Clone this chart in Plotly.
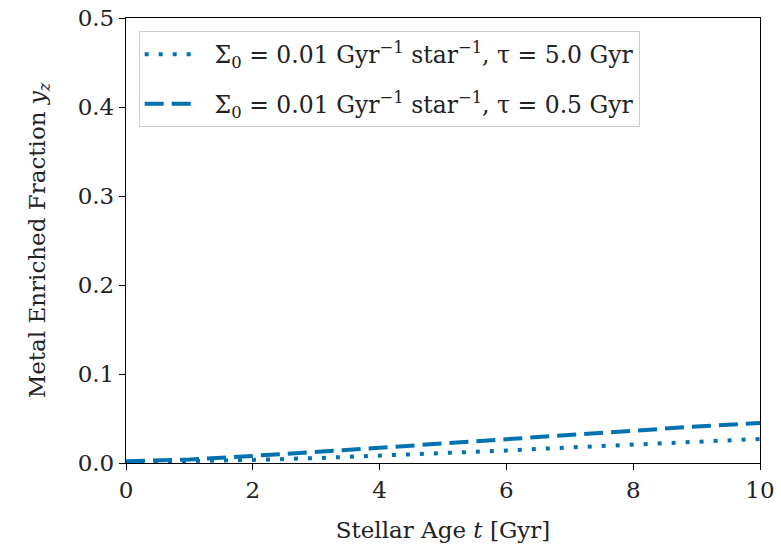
import plotly.graph_objects as go

t_gyr = [0, 1, 2, 3, 4, 5, 6, 7, 8, 9, 10]
yz_tau5 = [0.001, 0.002, 0.0035, 0.0055, 0.008, 0.011, 0.014, 0.0175, 0.021, 0.024, 0.027]
yz_tau05 = [0.002, 0.004, 0.008, 0.012, 0.017, 0.022, 0.027, 0.031, 0.036, 0.041, 0.045]
labels = ["\u00a0\u00a0Σ<sub>0</sub> = 0.01 Gyr<sup>−1</sup> star<sup>−1</sup>, τ = 5.0 Gyr",
          "\u00a0\u00a0Σ<sub>0</sub> = 0.01 Gyr<sup>−1</sup> star<sup>−1</sup>, τ = 0.5 Gyr"]
color = "#0072B2"

fig = go.Figure()
fig.add_trace(go.Scatter(x=t_gyr, y=yz_tau5, mode="lines", name=labels[0], legendgroup="a",
                         line=dict(color=color, width=4, dash="4px,10px")))
fig.add_trace(go.Scatter(x=t_gyr, y=yz_tau05, mode="lines", name=labels[1], legendgroup="b",
                         line=dict(color=color, width=4, dash="19px,8px")))

font = dict(family="DejaVu Serif", size=22, color="#222222")
axis_common = dict(showline=True, linecolor="black", linewidth=1.3, mirror=True,
                   ticks="outside", ticklen=6, tickcolor="black", showgrid=False,
                   zeroline=False, automargin=False,
                   tickfont=dict(family="DejaVu Serif", size=23, color="#222222"))
fig.update_layout(
    width=781, height=551,
    margin=dict(l=126, r=21, t=18, b=88),
    plot_bgcolor="white", paper_bgcolor="white",
    font=font,
    xaxis=dict(range=[0, 10], tickvals=[0, 2, 4, 6, 8, 10],
               title=dict(text="Stellar Age <i>t</i> [Gyr]", font=dict(size=23), standoff=20),
               **axis_common),
    yaxis=dict(range=[0, 0.5], tickvals=[0, 0.1, 0.2, 0.3, 0.4, 0.5], tickformat=".1f",
               title=dict(text="Metal Enriched Fraction <i>y<sub>z</sub></i>", font=dict(size=23), standoff=25),
               **axis_common),
    legend=dict(x=0.02, y=0.97, xanchor="left", yanchor="top",
                bgcolor="rgba(255,255,255,0.9)", bordercolor="#cccccc", borderwidth=1,
                font=dict(family="DejaVu Serif", size=23.5, color="#222222"),
                itemwidth=50, tracegroupgap=16),
)
fig.write_html("out.html")
